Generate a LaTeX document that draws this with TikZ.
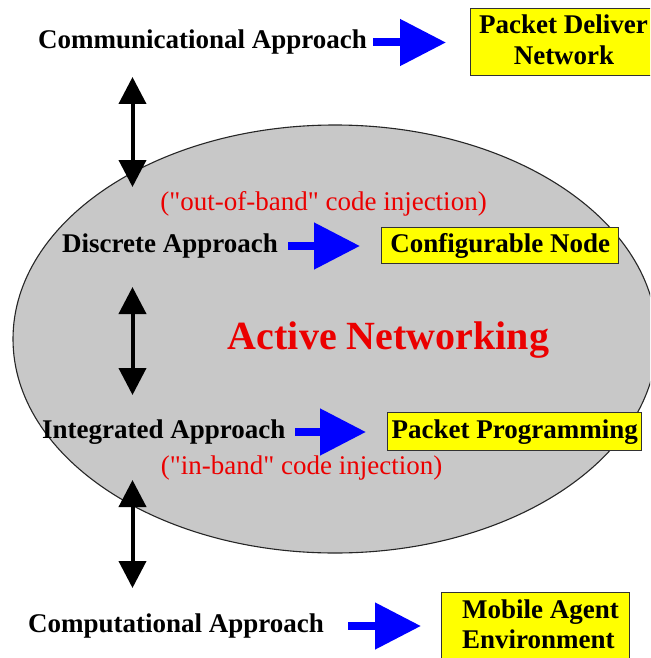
\documentclass[tikz,border=0pt]{standalone}
\usepackage{fontspec}
\setmainfont{Liberation Serif}
\newfontfamily\notefont{Liberation Serif}[Ligatures=TeXOff]
\usetikzlibrary{arrows.meta}
\definecolor{arrowblue}{RGB}{0,0,255}
\definecolor{notered}{RGB}{235,0,0}
\definecolor{ellgray}{RGB}{200,200,200}
\definecolor{boxline}{RGB}{50,50,50}
\definecolor{boxyellow}{RGB}{255,255,0}
\begin{document}
\begin{tikzpicture}[x=1pt,y=-1pt,
  lbl/.style={font=\fontsize{27}{32}\selectfont\bfseries, inner sep=0pt, anchor=base west},
  note/.style={font=\notefont\fontsize{27}{32}\selectfont, text=notered, inner sep=0pt},
  title/.style={font=\fontsize{40}{46}\selectfont\bfseries, text=notered, inner sep=0pt},
  boxtxt/.style={font=\fontsize{27}{32}\selectfont\bfseries, inner sep=0pt},
  ybox/.style={draw=boxline, line width=1.3pt, fill=boxyellow, inner sep=0pt, rectangle},
  barrow/.style={draw=arrowblue, line width=8pt, -{Triangle[length=46pt,width=45pt]}},
  darrow/.style={draw=black, line width=4pt, {Triangle[length=27pt,width=27pt]}-{Triangle[length=27pt,width=27pt]}},
]
\useasboundingbox (0,0) rectangle (650,658);
\clip (0,0) rectangle (650,658);
\fill[white] (0,0) rectangle (650,658);

% central ellipse
\draw[fill=ellgray, draw=black!85, line width=1.1pt] (335,339) ellipse [x radius=322, y radius=214];

% yellow boxes
\node[ybox, minimum width=190pt, minimum height=67pt, anchor=north west] (box1) at (470,8) {};
\node[boxtxt, anchor=base west] (box1a) at (479,34) {Packet Deliver};
\node[boxtxt, anchor=base] (box1b) at (564,65) {Network};

\node[ybox, boxtxt, minimum width=237pt, minimum height=36pt, anchor=north west] (box2) at (381,227) {Configurable Node};
\node[ybox, boxtxt, minimum width=254pt, minimum height=38pt, anchor=north west] (box3) at (387,412) {Packet Programming};

\node[ybox, minimum width=188pt, minimum height=80pt, anchor=north west] (box4) at (441,592) {};
\node[boxtxt, anchor=base west] (box4a) at (462,618) {Mobile Agent};
\node[boxtxt, anchor=base west] (box4b) at (462,648) {Environment};

% labels
\node[lbl] (lab1) at (38,49) {Communicational Approach};
\node[lbl] (lab2) at (62,252) {Discrete Approach};
\node[lbl] (lab3) at (42,438) {Integrated Approach};
\node[lbl] (lab4) at (28,632) {Computational Approach};

\node[note] (n1) at (323.5,204) {("out-of-band" code injection)};
\node[note] (n2) at (301.5,468) {("in-band" code injection)};
\node[title] (an) at (388.5,340) {Active Networking};

% blue arrows
\coordinate (b1s) at (373,42.5); \coordinate (b1e) at (446,42.5);
\coordinate (b2s) at (288,246);  \coordinate (b2e) at (360,246);
\coordinate (b3s) at (295,432);  \coordinate (b3e) at (366,432);
\coordinate (b4s) at (348,626);  \coordinate (b4e) at (421,626);
\draw[barrow] (b1s) -- (b1e);
\draw[barrow] (b2s) -- (b2e);
\draw[barrow] (b3s) -- (b3e);
\draw[barrow] (b4s) -- (b4e);

% double arrows
\coordinate (d1t) at (132.5,77);  \coordinate (d1b) at (132.5,187);
\coordinate (d2t) at (132.5,287); \coordinate (d2b) at (132.5,395);
\coordinate (d3t) at (132.5,480); \coordinate (d3b) at (132.5,588);
\draw[darrow] (d1t) -- (d1b);
\draw[darrow] (d2t) -- (d2b);
\draw[darrow] (d3t) -- (d3b);
\end{tikzpicture}
\end{document}
